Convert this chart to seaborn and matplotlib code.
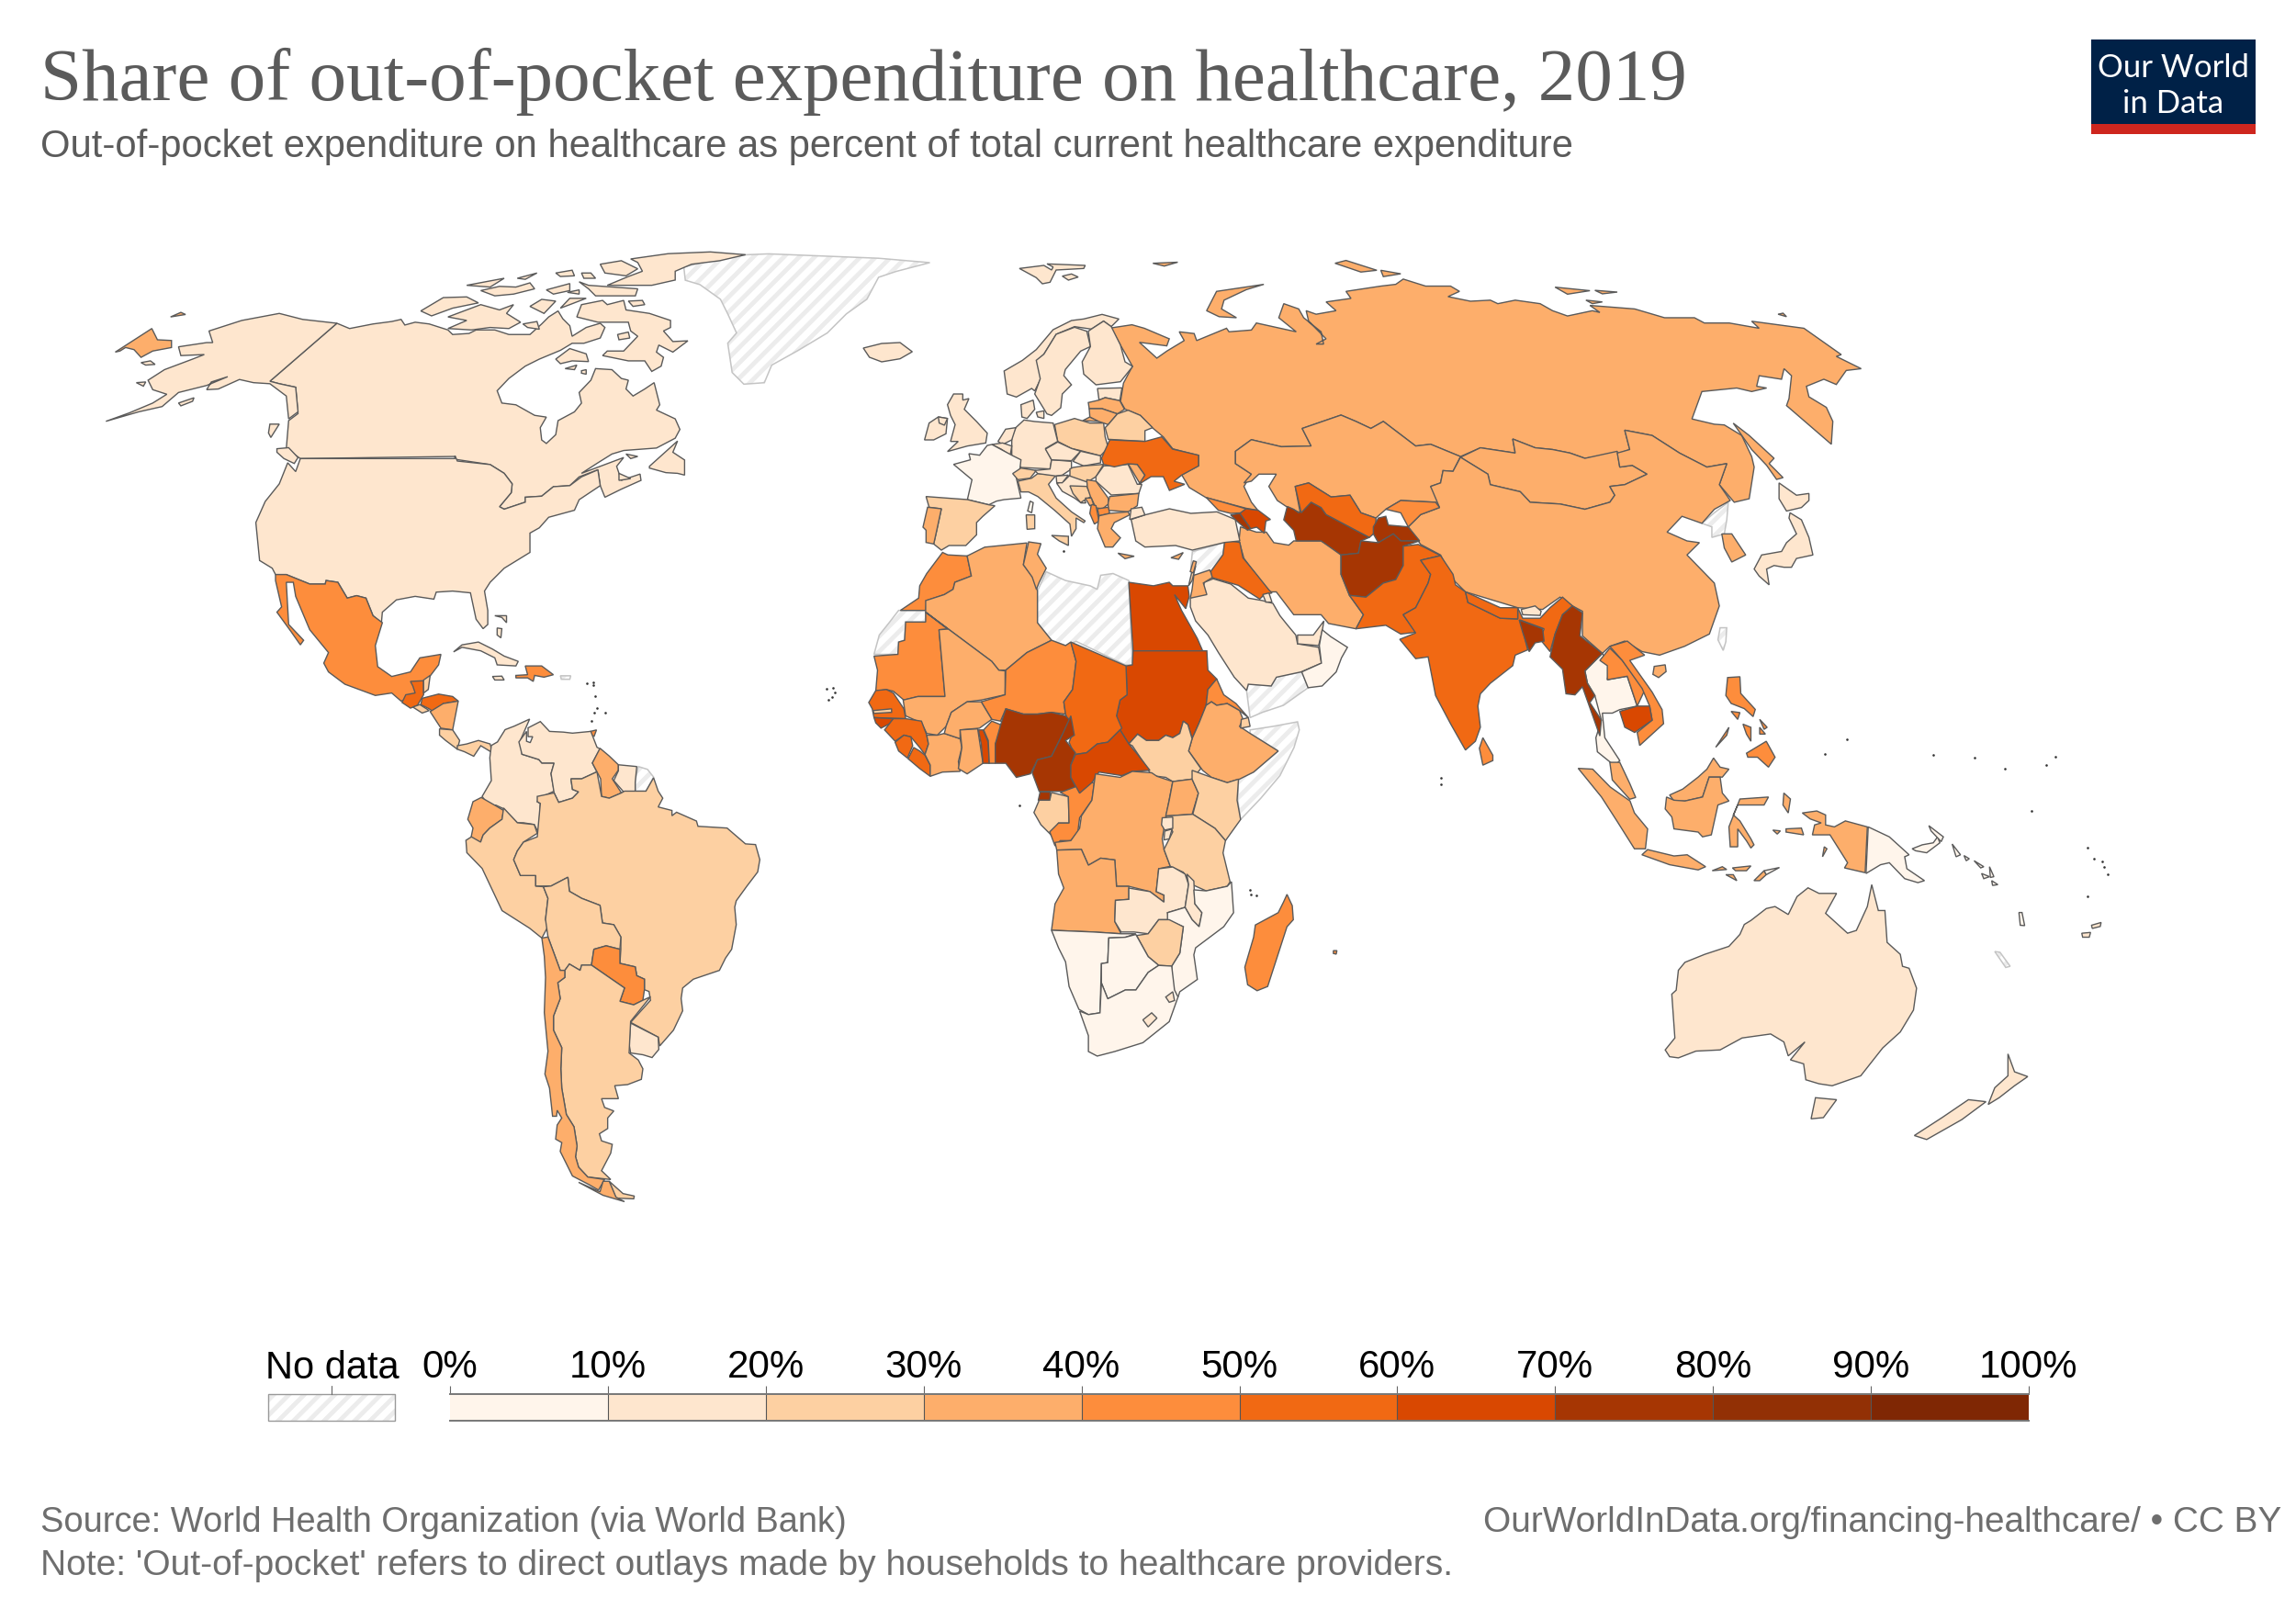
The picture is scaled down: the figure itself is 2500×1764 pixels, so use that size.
# Share of out-of-pocket expenditure on healthcare, 2019 - world map

import numpy as np
import pandas as pd
import matplotlib
matplotlib.use("Agg")
import matplotlib.pyplot as plt
import seaborn as sns

# --- Data ---
title = "Share of out-of-pocket expenditure on healthcare, 2019"
subtitle = "Out-of-pocket expenditure on healthcare as percent of total current healthcare expenditure"
source = "Source: World Health Organization (via World Bank)"
note = "Note: 'Out-of-pocket' refers to direct outlays made by households to healthcare providers."
url = "OurWorldInData.org/financing-healthcare/ • CC BY"

bin_edges = [0, 10, 20, 30, 40, 50, 60, 70, 80, 90, 100]
bin_labels = ["0%", "10%", "20%", "30%", "40%", "50%", "60%", "70%", "80%", "90%", "100%"]
bin_colors = ["#fff5eb", "#fee6ce", "#fdd0a2", "#fdae6b", "#fd8d3c",
              "#f16913", "#d94801", "#a63603", "#923005", "#7f2704"]

# shares (nan = no data)
shares = {
    "Russia": 35, "Kazakhstan": 35, "Mongolia": 35, "China": 35, "Canada": 15, "United States": 15,
    "Mexico": 45, "Greenland": np.nan, "Cuba": 15, "Hispaniola": 45, "Jamaica": 15, "Puerto Rico": np.nan,
    "Bahamas": 15, "Trinidad": 45, "Guatemala": 55, "Belize": 25, "Honduras": 55, "El Salvador": 25,
    "Nicaragua": 35, "Costa Rica": 25, "Panama": 25, "Colombia": 15, "Venezuela": 15, "Guyana": 35,
    "Suriname": 15, "French Guiana": np.nan, "Ecuador": 35, "Peru": 25, "Brazil": 25, "Bolivia": 25,
    "Paraguay": 45, "Uruguay": 15, "Argentina": 25, "Chile": 35,
    "Morocco": 45, "Western Sahara": np.nan, "Algeria": 35, "Tunisia": 35, "Libya": np.nan, "Egypt": 65,
    "Sudan": 65, "Eritrea": 45, "Ethiopia": 35, "Djibouti": 25, "Somalia": np.nan, "South Sudan": 25,
    "Mauritania": 45, "Mali": 35, "Niger": 45, "Chad": 55, "Senegal": 55, "Gambia": 25,
    "Guinea-Bissau": 65, "Guinea": 55, "Sierra Leone": 55, "Liberia": 55, "Cote d'Ivoire": 35,
    "Burkina Faso": 35, "Ghana": 35, "Togo": 65, "Benin": 45, "Nigeria": 75, "Cameroon": 75,
    "Equatorial Guinea": 75, "Gabon": 25, "Congo": 45, "Central African Republic": 65, "DR Congo": 35,
    "Angola": 35, "Uganda": 35, "Kenya": 25, "Tanzania": 25, "Rwanda": 15, "Burundi": 15, "Zambia": 15,
    "Malawi": 15, "Mozambique": 5, "Zimbabwe": 25, "Namibia": 5, "Botswana": 5, "South Africa": 5,
    "Lesotho": 15, "Eswatini": 15, "Madagascar": 45, "Mauritius": 45,
    "Saudi Arabia": 15, "UAE": 15, "Oman": 5, "Yemen": np.nan, "Jordan": 35, "Israel": 25, "Lebanon": 35,
    "Syria": np.nan, "Iraq": 55, "Kuwait": 15, "Iran": 35, "Pakistan": 55, "Afghanistan": 75, "Turkmenistan": 75,
    "Uzbekistan": 55, "Kyrgyzstan": 45, "Tajikistan": 75, "India": 55, "Nepal": 55, "Bhutan": 15,
    "Bangladesh": 75, "Myanmar": 75, "Thailand": 5, "Laos": 45, "Vietnam": 45, "Cambodia": 65,
    "Malaysia": 35, "Sri Lanka": 45, "Japan": 15, "South Korea": 35, "North Korea": np.nan,
    "Taiwan": np.nan, "Philippines": 45, "Indonesia": 35, "Papua New Guinea": 5, "Australia": 15,
    "New Zealand": 15, "Solomon Islands": 5, "New Caledonia": np.nan, "Fiji": 15, "Vanuatu": 5,
    "Norway": 15, "Sweden": 15, "Finland": 15, "Iceland": 15, "United Kingdom": 15, "Ireland": 15,
    "Denmark": 15, "Estonia": 15, "Latvia": 35, "Lithuania": 35, "Belarus": 25, "Poland": 25,
    "Germany": 15, "Netherlands": 15, "Belgium": 15, "France": 5, "Spain": 25, "Portugal": 35,
    "Switzerland": 25, "Austria": 15, "Italy": 25, "Czechia": 15, "Slovakia": 15, "Hungary": 25,
    "Romania": 15, "Moldova": 35, "Ukraine": 55, "Slovenia": 15, "Croatia": 15, "Bosnia": 25,
    "Serbia": 35, "Bulgaria": 35, "North Macedonia": 45, "Albania": 45, "Montenegro": 35, "Greece": 35,
    "Cyprus": 35, "Turkey": 15, "Georgia": 45, "Armenia": 75, "Azerbaijan": 65,
}

# tiny islands too small for an outline
tiny_x = [900, 907, 909, 902, 906, 639, 646, 646, 648, 650, 647, 659, 644, 1361, 1362, 1368, 1110, 1569, 1569,
          2011, 1987, 2105, 2150, 2183, 2228, 2238, 2212, 2273, 2280, 2289, 2291, 2295, 2273, 1158]
tiny_y = [751, 750, 755, 763, 760, 745, 744, 747, 759, 772, 777, 777, 786, 970, 975, 976, 878, 848, 855,
          806, 822, 823, 826, 838, 834, 825, 884, 924, 936, 939, 945, 953, 977, 601]

# the outlines were traced on enlarged sections of the map: left, top, x scale, y scale
sections = {
    "NA": (100, 260, 1.96, 2.613),
    "SA": (400, 740, 3.0, 2.613),
    "AF": (900, 570, 2.613, 2.613),
    "EU": (980, 280, 3.0, 3.0),
    "AS": (1200, 280, 1.845, 2.613),
    "OC": (1550, 600, 2.09, 2.306),
    "V": (0, 0, 0.6272, 0.6272),
}

outlines = {
    "Russia": [
        ("AS", [(18,204),(60,195),(85,205),(135,235),(130,255),(75,245),(110,290),(130,270),(165,240),(155,215),(185,220),(190,240),(250,205),(255,215),(300,210),(310,190),(390,215),(355,175),(365,135),(395,150),(405,175),(440,215),(445,250),(430,250),(450,235),(415,185),(410,155),(430,165),(470,155),(450,130),(500,120),(490,100),(560,85),(590,80),(605,65),(650,85),(700,85),(718,100),(695,115),(740,128),(780,125),(795,135),(830,125),(880,135),(905,155),(935,170),(985,155),(1000,160),(980,140),(1070,150),(1130,175),(1190,175),(1210,190),(1260,190),(1320,205),(1305,185),(1410,205),(1485,280),(1475,285),(1525,320),(1495,325),(1475,365),(1450,350),(1415,370),(1420,400),(1455,430),(1468,470),(1465,535),(1375,425),(1380,405),(1385,340),(1370,320),(1365,350),(1320,340),(1315,370),(1335,375),(1305,385),(1275,375),(1205,385),(1185,463),(1230,478),(1250,480),(1285,510),(1305,570),(1310,600),(1300,690),(1270,700),(1240,650),(1255,590),(1215,600),(1160,560),(1105,510),(1050,495),(1060,550),(1040,560),(970,575),(940,560),(905,550),(870,545),(825,520),(830,560),(760,545),(720,570),(660,535),(630,540),(565,470),(540,490),(510,470),(480,452),(402,490),(420,540),(360,542),(300,522),(268,555),(268,590),(300,620),(285,655),(300,700),(313,723),(289,717),(209,687),(175,658),(160,622),(194,596),(194,567),(142,548),(123,514),(101,488),(77,453),(46,435),(37,413),(43,361),(61,313),(37,253)]),
        ("AS", [(210,155),(230,100),(325,80),(290,95),(245,125),(240,150),(270,175),(235,172)]),
        ("AS", [(468,20),(490,12),(552,40),(520,45)]),
        ("AS", [(560,40),(600,50),(565,58)]),
        ("AS", [(102,20),(152,17),(125,28)]),
        ("AS", [(910,88),(980,98),(935,108)]),
        ("AS", [(990,97),(1035,102),(1005,107)]),
        ("AS", [(972,125),(1005,130),(985,135)]),
        ("AS", [(1358,165),(1368,162),(1375,172)]),
        ("AS", [(1268,475),(1300,510),(1350,575),(1340,590),(1368,630),(1355,635),(1335,595),(1305,550)]),
        ("NA", [(50,325),(128,258),(140,290),(170,292),(170,312),(130,322),(105,340),(90,318),(72,312),(60,322)]),
        ("NA", [(168,225),(190,212),(200,218)]),
        ("EU", [(597,537),(620,525),(650,540)]),
    ],
    "Kazakhstan": [("AS", [(268,555),(300,522),(360,542),(420,540),(402,490),(480,452),(510,470),(540,490),(565,470),(630,540),(660,535),(720,570),(705,612),(685,610),(680,645),(660,655),(680,695),(678,715),(670,700),(600,695),(570,720),(550,745),(520,730),(498,680),(460,685),(415,645),(388,655),(398,730),(370,712),(352,695),(335,655),(350,620),(315,620),(300,640),(285,645),(300,620),(268,590)])],
    "Mongolia": [("AS", [(720,572),(760,545),(830,560),(825,520),(870,545),(905,550),(940,560),(970,575),(1035,555),(1040,600),(1065,595),(1095,620),(1050,650),(1020,655),(1030,680),(1020,700),(970,720),(920,705),(860,700),(840,670),(780,650),(775,620)])],
    "China": [
        ("AS", [(720,572),(775,620),(780,650),(840,670),(860,700),(920,705),(970,720),(1020,700),(1030,680),(1020,655),(1050,650),(1095,620),(1065,595),(1040,600),(1035,560),(1060,550),(1050,495),(1105,510),(1160,560),(1215,600),(1255,590),(1240,650),(1262,695),(1230,720),(1205,760),(1165,740),(1135,785),(1175,810),(1200,815),(1175,850),(1230,930),(1240,995),(1220,1075),(1170,1110),(1120,1135),(1085,1125),(1050,1095),(1020,1110),(1005,1130),(965,1080),(965,1010),(945,995),(920,970),(885,1005),(835,1000),(730,955),(705,920),(680,850),(640,820),(615,770),(640,735),(678,715),(660,655),(680,645),(685,610),(705,612)]),
        ("OC", [(525,292),(550,288),(552,305),(535,320),(522,312)]),
    ],
    "Canada": [
        ("NA", [(523,243),(550,258),(600,245),(640,238),(660,232),(668,248),(690,240),(720,245),(760,262),(770,275),(805,272),(820,262),(860,262),(890,275),(935,275),(960,245),(975,225),(995,208),(1005,230),(1020,250),(1025,280),(1055,255),(1085,243),(1095,255),(1085,285),(1050,300),(1025,300),(1000,320),(955,345),(925,365),(890,400),(865,435),(875,470),(905,475),(945,505),(970,510),(957,540),(960,575),(970,585),(990,560),(995,520),(1030,495),(1045,470),(1040,440),(1065,405),(1075,372),(1110,375),(1130,400),(1145,405),(1140,430),(1155,450),(1180,430),(1200,412),(1212,475),(1205,490),(1245,515),(1255,545),(1245,570),(1205,598),(1135,605),(1110,615),(1080,640),(1045,670),(1135,625),(1120,650),(1130,690),(1170,672),(1172,690),(1130,715),(1095,738),(1085,705),(1080,660),(1040,680),(1020,705),(985,708),(960,735),(925,738),(925,752),(880,772),(870,765),(895,725),(897,700),(880,670),(850,645),(775,630),(775,622),(445,628),(415,600),(420,520),(440,500),(435,425),(400,415),(380,408)]),
        ("NA", [(1035,225),(1045,190),(1090,178),(1100,190),(1135,178),(1140,205),(1190,215),(1235,235),(1235,255),(1220,265),(1240,295),(1272,293),(1240,325),(1210,305),(1205,325),(1220,340),(1215,365),(1195,380),(1180,350),(1145,350),(1090,335),(1100,322),(1135,322),(1165,280),(1150,265),(1145,240),(1080,240)]),
        ("NA", [(760,225),(830,190),(870,205),(900,190),(885,215),(915,240),(890,258),(850,255),(810,262),(760,258),(800,235)]),
        ("NA", [(702,208),(750,170),(800,168),(825,185),(770,200),(725,222)]),
        ("NA", [(1150,60),(1230,45),(1320,40),(1395,48),(1340,65),(1280,75),(1245,95),(1245,120),(1195,135),(1100,135),(1145,110),(1175,95),(1165,70)]),
        ("NA", [(1085,75),(1130,65),(1165,88),(1140,108),(1095,100)]),
        ("NA", [(1040,125),(1060,135),(1165,145),(1160,165),(1075,165),(1060,145)]),
        ("NA", [(990,345),(1020,315),(1055,330),(1060,352),(1025,350),(1000,358)]),
        ("NA", [(800,135),(880,115),(850,140)]),
        ("NA", [(830,150),(870,138),(905,140),(935,128),(945,145),(900,160),(860,165)]),
        ("NA", [(970,148),(1020,130),(1020,150),(985,160)]),
        ("NA", [(935,195),(960,175),(990,180),(965,215)]),
        ("NA", [(1000,200),(1020,172),(1055,172),(1020,190)]),
        ("NA", [(1145,180),(1175,178),(1180,190),(1155,195)]),
        ("NA", [(990,100),(1025,92),(1030,108),(1000,110)]),
        ("NA", [(908,115),(950,100),(925,118)]),
        ("NA", [(1015,155),(1040,148),(1040,160)]),
        ("NA", [(1045,100),(1065,100),(1075,115),(1050,115)]),
        ("NA", [(920,245),(950,238),(955,260),(930,255)]),
        ("NA", [(1122,275),(1145,268),(1148,285),(1125,290)]),
        ("NA", [(1010,372),(1035,362),(1030,375)]),
        ("NA", [(1045,378),(1055,375),(1055,388),(1045,385)]),
        ("NA", [(1190,650),(1250,578),(1240,610),(1265,632),(1265,675),(1250,670),(1225,668),(1190,655)]),
        ("NA", [(380,530),(400,530),(382,568),(377,555)]),
        ("NA", [(1140,615),(1165,622),(1150,628)]),
        ("NA", [(1125,670),(1150,685),(1125,690)]),
        ("NA", [(395,600),(420,597),(440,625),(432,642),(410,628),(395,610)]),
    ],
    "United States": [
        ("NA", [(445,628),(775,628),(775,620),(780,635),(850,645),(880,670),(897,700),(895,725),(870,765),(880,772),(925,752),(925,738),(960,735),(985,708),(1020,705),(1045,680),(1080,660),(1085,705),(1040,745),(1030,775),(975,795),(955,825),(935,840),(935,895),(880,940),(850,980),(838,1005),(845,1060),(845,1100),(835,1112),(820,1085),(808,1010),(770,1005),(735,1008),(730,1028),(690,1020),(650,1030),(620,1065),(618,1095),(600,1075),(585,1025),(565,1018),(545,1025),(525,980),(500,975),(498,985),(465,985),(415,958),(392,958),(385,940),(358,918),(350,810),(370,750),(400,700),(418,640),(435,665)]),
        ("NA", [(523,243),(380,408),(400,415),(435,425),(440,495),(420,515),(415,450),(380,415),(345,412),(315,403),(270,430),(245,432),(255,410),(290,395),(245,420),(185,440),(150,480),(100,495),(30,522),(80,498),(130,470),(160,445),(130,432),(120,405),(155,375),(215,345),(240,332),(190,335),(185,310),(245,298),(258,298),(250,265),(320,235),(400,215),(450,232)]),
        ("NA", [(105,355),(125,350),(135,360),(115,362)]),
        ("NA", [(95,412),(115,410),(110,422)]),
        ("NA", [(185,470),(218,455),(215,465),(190,478)]),
    ],
    "Greenland": [("V", [(467,183),(500,175),(525,174),(600,177),(635,180),(612,186),(600,190),(592,205),(578,215),(565,228),(545,240),(527,250),(522,262),(508,263),(500,255),(497,235),(503,228),(497,215),(492,205),(478,195),(468,192)])],
    "Mexico": [("NA", [(392,958),(415,958),(465,985),(498,985),(500,975),(525,980),(545,1025),(565,1018),(585,1025),(600,1075),(620,1095),(605,1160),(610,1220),(640,1248),(680,1235),(700,1195),(745,1185),(740,1215),(720,1250),(705,1285),(690,1305),(660,1318),(640,1295),(605,1302),(540,1270),(505,1235),(495,1210),(505,1180),(465,1115),(435,1020),(430,980),(415,980),(420,1100),(452,1145),(445,1158),(425,1120),(395,1065),(405,1050),(392,975)])],
    "Cuba": [("NA", [(772,1178),(790,1158),(825,1150),(855,1170),(880,1190),(910,1205),(905,1218),(865,1215),(860,1195),(830,1175),(790,1165)])],
    "Hispaniola": [("NA", [(905,1245),(930,1243),(925,1218),(960,1218),(985,1243),(965,1250),(945,1245),(942,1262),(930,1252),(905,1252)])],
    "Jamaica": [("NA", [(855,1248),(875,1247),(880,1258),(860,1258)])],
    "Puerto Rico": [("NA", [(1000,1246),(1022,1246),(1020,1256),(1002,1256)])],
    "Bahamas": [("NA", [(860,1075),(885,1075),(885,1095),(875,1080)]), ("NA", [(865,1110),(875,1112),(873,1138),(865,1130)])],
    "Trinidad": [("NA", [(1062,1405),(1077,1400),(1072,1418),(1062,1415)])],
    "Guatemala": [("NA", [(680,1262),(708,1260),(708,1300),(695,1330),(680,1338),(662,1322),(670,1300),(690,1295),(685,1275)])],
    "Belize": [("NA", [(708,1258),(722,1245),(718,1285),(708,1295)])],
    "El Salvador": [("NA", [(685,1335),(700,1328),(720,1345),(705,1352)])],
    "Honduras": [("NA", [(705,1310),(740,1298),(770,1305),(782,1318),(750,1325),(735,1355),(720,1340),(702,1328)])],
    "Nicaragua": [("NA", [(722,1348),(750,1325),(782,1318),(778,1345),(770,1400),(745,1395)])],
    "Costa Rica": [("NA", [(742,1397),(770,1400),(785,1430),(780,1455),(755,1430),(742,1415)])],
    "Panama": [("NA", [(780,1445),(800,1440),(825,1430),(850,1440),(855,1465),(830,1445),(815,1475),(795,1462),(780,1455)])],
    "Colombia": [("SA", [(405,190),(425,180),(450,145),(480,135),(530,115),(500,175),(505,215),(560,230),(570,240),(610,240),(600,270),(610,320),(560,340),(555,350),(565,355),(560,440),(545,415),(510,410),(490,410),(445,370),(420,360),(395,360),(375,335),(405,290),(400,225)])],
    "Venezuela": [("SA", [(525,140),(565,122),(595,150),(640,152),(670,155),(730,150),(750,195),(760,200),(735,240),(750,265),(700,285),(665,285),(670,315),(690,322),(670,340),(625,352),(610,325),(600,270),(610,240),(570,240),(560,230),(505,215),(495,180),(520,150),(520,178),(532,182),(540,165),(525,165)])],
    "Guyana": [("SA", [(760,198),(790,220),(820,245),(820,260),(800,285),(830,325),(790,340),(765,335),(762,285),(735,240)])],
    "Suriname": [("SA", [(820,245),(880,250),(875,295),(875,320),(840,325),(805,290),(820,262)])],
    "French Guiana": [("SA", [(885,250),(915,258),(935,280),(910,320),(875,320),(875,290)])],
    "Ecuador": [("SA", [(345,350),(372,338),(420,362),(445,375),(440,400),(400,425),(378,445),(370,465),(338,455),(345,425),(328,400)])],
    "Peru": [("SA", [(322,460),(340,450),(370,465),(378,445),(400,425),(440,400),(445,368),(490,410),(545,415),(555,440),(510,465),(490,490),(478,515),(500,560),(550,560),(550,590),(575,592),(590,625),(582,685),(590,705),(570,738),(530,710),(440,660),(375,540),(325,495)])],
    "Brazil": [("SA", [(555,335),(610,325),(625,352),(670,340),(690,322),(670,315),(665,285),(700,285),(750,265),(765,335),(790,340),(830,325),(840,320),(875,320),(910,320),(935,282),(950,320),(965,340),(950,365),(995,375),(995,390),(1010,380),(1075,405),(1080,420),(1175,425),(1235,470),(1268,472),(1282,515),(1275,550),(1240,590),(1205,632),(1200,650),(1205,700),(1190,770),(1170,795),(1150,830),(1065,855),(1030,880),(1025,910),(1030,945),(1000,1000),(955,1045),(950,1020),(860,978),(925,915),(920,890),(905,885),(905,855),(880,845),(875,820),(825,810),(828,770),(828,735),(805,700),(768,695),(760,645),(700,625),(660,605),(655,565),(600,590),(550,590),(550,560),(500,560),(478,515),(490,490),(510,465),(555,450),(565,355),(555,350)])],
    "Bolivia": [("SA", [(575,592),(600,590),(655,565),(660,605),(700,625),(760,645),(768,695),(805,700),(828,735),(825,770),(780,760),(740,770),(732,815),(700,815),(695,830),(660,812),(645,830),(630,830),(590,735),(582,685),(590,625)])],
    "Paraguay": [("SA", [(740,770),(780,760),(825,770),(825,810),(875,820),(880,845),(905,855),(905,885),(900,915),(870,928),(825,918),(840,880),(790,850),(732,815)])],
    "Uruguay": [("SA", [(860,980),(950,1020),(952,1055),(930,1078),(900,1070),(860,1065),(855,1040)])],
    "Argentina": [
        ("SA", [(645,830),(660,812),(695,830),(700,815),(732,815),(790,850),(840,880),(825,918),(870,928),(900,915),(925,905),(860,975),(855,1065),(885,1085),(900,1110),(895,1140),(850,1155),(808,1158),(820,1195),(765,1195),(775,1220),(805,1230),(785,1250),(785,1280),(758,1295),(765,1315),(800,1325),(795,1350),(765,1400),(795,1425),(720,1418),(690,1390),(680,1360),(685,1330),(675,1275),(650,1240),(635,1165),(632,1110),(635,1050),(608,1000),(608,960),(630,910),(622,865),(645,850)]),
        ("SA", [(790,1430),(835,1465),(872,1472),(870,1480),(812,1478)]),
    ],
    "Chile": [
        ("SA", [(570,738),(590,735),(630,830),(645,830),(645,850),(622,865),(630,910),(608,960),(608,1000),(635,1050),(632,1110),(635,1165),(650,1240),(675,1275),(685,1330),(680,1360),(690,1390),(720,1418),(775,1425),(755,1455),(725,1440),(670,1415),(630,1345),(635,1320),(615,1310),(620,1270),(635,1250),(620,1228),(618,1245),(605,1245),(595,1165),(580,1125),(590,1060),(578,950),(582,850),(578,790)]),
        ("SA", [(690,1433),(760,1460),(770,1430),(790,1430),(812,1475),(840,1488),(770,1470)]),
    ],
    "Morocco": [("AF", [(210,250),(262,215),(265,180),(285,145),(330,85),(345,92),(400,95),(412,152),(365,170),(360,190),(335,205),(285,222),(282,250)])],
    "Western Sahara": [("AF", [(135,375),(150,320),(178,285),(205,250),(282,250),(282,283),(225,283),(222,335),(205,340),(203,375)])],
    "Algeria": [("AF", [(282,222),(335,205),(360,190),(365,170),(412,152),(400,95),(450,70),(570,58),(560,120),(590,160),(600,195),(600,285),(640,335),(570,370),(510,420),(490,420),(470,395),(282,255)])],
    "Tunisia": [("AF", [(575,55),(610,60),(600,90),(625,130),(605,170),(597,190),(585,155),(560,120)])],
    "Libya": [("AF", [(625,140),(680,165),(750,180),(770,190),(780,150),(815,145),(860,165),(870,405),(850,405),(710,338),(680,350),(640,335),(600,285),(600,195)])],
    "Egypt": [("AF", [(860,170),(930,180),(975,170),(985,180),(1028,180),(1032,210),(1022,245),(990,205),(1010,250),(1055,330),(1070,365),(872,365)])],
    "Sudan": [("AF", [(872,365),(1082,365),(1085,420),(1110,445),(1085,475),(1080,520),(1060,570),(1040,615),(1028,575),(1015,565),(1005,600),(985,612),(965,605),(945,620),(910,620),(885,602),(860,630),(835,590),(825,550),(835,505),(855,490),(852,408),(870,405)])],
    "Eritrea": [("AF", [(1110,445),(1130,490),(1165,515),(1200,555),(1175,535),(1140,515),(1110,520),(1095,510),(1080,520),(1085,475)])],
    "Ethiopia": [("AF", [(1080,520),(1095,510),(1110,520),(1140,515),(1175,535),(1185,560),(1175,580),(1205,600),(1285,650),(1215,710),(1175,730),(1140,740),(1095,725),(1070,705),(1030,650),(1040,615),(1060,570)])],
    "Djibouti": [("AF", [(1180,560),(1200,555),(1205,580),(1178,585)])],
    "Somalia": [("AF", [(1205,590),(1270,580),(1340,567),(1345,590),(1330,640),(1290,720),(1235,785),(1178,845),(1170,790),(1172,730),(1215,710),(1285,650),(1205,600)])],
    "South Sudan": [("AF", [(860,630),(885,602),(910,620),(945,620),(965,605),(985,612),(1005,600),(1015,565),(1028,575),(1040,615),(1030,650),(1065,700),(1040,730),(985,737),(965,725),(925,720),(900,680),(870,635)])],
    "Mauritania": [("AF", [(135,380),(203,375),(205,340),(222,335),(225,283),(282,283),(282,255),(345,303),(320,305),(337,495),(260,495),(220,505),(190,480),(170,475),(140,480),(145,420)])],
    "Mali": [("AF", [(282,255),(470,395),(490,420),(508,422),(508,490),(440,505),(400,510),(355,540),(340,580),(315,605),(285,600),(270,570),(225,550),(218,505),(260,495),(337,495),(320,305),(345,303)])],
    "Niger": [("AF", [(510,420),(570,370),(640,335),(680,350),(695,340),(710,395),(700,475),(675,510),(680,545),(640,540),(600,545),(560,545),(510,530),(495,565),(470,560),(440,510),(508,490)])],
    "Chad": [("AF", [(695,340),(852,408),(855,490),(835,505),(825,550),(840,585),(800,625),(770,630),(740,655),(705,660),(690,625),(700,600),(680,545),(675,510),(700,475),(710,395)])],
    "Senegal": [("AF", [(120,512),(140,478),(170,475),(190,485),(220,530),(225,558),(135,555),(130,530)])],
    "Gambia": [("AF", [(132,535),(185,530),(185,540),(135,543)])],
    "Guinea-Bissau": [("AF", [(135,555),(190,558),(180,572),(155,585),(140,570)])],
    "Guinea": [("AF", [(165,590),(190,558),(225,558),(270,565),(285,605),(290,630),(280,660),(265,640),(240,610),(220,605),(195,622)])],
    "Sierra Leone": [("AF", [(195,625),(220,605),(240,610),(245,635),(230,670),(205,650)])],
    "Liberia": [("AF", [(232,672),(248,640),(265,650),(280,662),(295,690),(295,722),(265,700)])],
    "Cote d'Ivoire": [("AF", [(285,605),(315,605),(335,600),(380,615),(385,640),(375,680),(380,708),(330,710),(295,722),(295,690),(280,660),(290,630)])],
    "Burkina Faso": [("AF", [(355,540),(400,510),(440,510),(470,560),(435,585),(380,590),(380,615),(335,600),(340,580)])],
    "Ghana": [("AF", [(380,590),(430,587),(435,620),(445,685),(400,715),(375,700),(385,640)])],
    "Togo": [("AF", [(432,590),(445,590),(460,625),(463,685),(445,685),(440,630)])],
    "Benin": [("AF", [(447,590),(470,565),(495,575),(495,600),(480,630),(480,685),(463,685),(460,620)])],
    "Nigeria": [("AF", [(497,570),(510,530),(560,545),(600,545),(640,540),(680,550),(695,565),(670,605),(640,665),(600,675),(585,705),(580,715),(540,725),(510,685),(480,685),(480,630)])],
    "Cameroon": [("AF", [(695,550),(705,605),(680,620),(708,655),(695,690),(695,725),(718,770),(670,765),(605,765),(585,712),(600,675),(640,665),(670,605)])],
    "Equatorial Guinea": [("AF", [(605,765),(635,765),(635,790),(600,790)])],
    "Gabon": [("AF", [(605,790),(635,790),(640,768),(688,780),(690,855),(660,855),(640,890),(610,860),(590,825)])],
    "Congo": [("AF", [(665,768),(740,740),(762,740),(755,790),(720,840),(715,880),(695,905),(665,905),(650,920),(635,880),(660,855),(690,855),(688,780)])],
    "Central African Republic": [("AF", [(708,660),(740,655),(770,630),(800,625),(835,590),(860,630),(885,660),(920,705),(870,708),(840,720),(775,710),(755,740),(720,770),(695,725),(695,690)])],
    "DR Congo": [("AF", [(765,715),(835,725),(870,708),(925,712),(940,722),(985,737),(965,840),(955,900),(960,930),(978,978),(945,985),(938,1050),(960,1060),(960,1080),(920,1050),(860,1035),(825,1035),(820,960),(780,955),(745,975),(725,930),(655,932),(650,910),(695,905),(720,870),(725,835),(755,790)])],
    "Angola": [("AF", [(655,932),(725,930),(745,975),(780,955),(820,960),(825,1035),(860,1035),(860,1072),(822,1075),(820,1135),(838,1170),(760,1165),(640,1160),(650,1085),(675,1040),(660,1000)])],
    "Uganda": [("AF", [(985,737),(1040,730),(1058,770),(1040,830),(965,835),(975,790)])],
    "Kenya": [("AF", [(1040,705),(1095,725),(1140,740),(1172,730),(1168,790),(1178,845),(1135,905),(1105,870),(1042,830),(1058,770),(1040,730)])],
    "Tanzania": [("AF", [(965,835),(1042,830),(1105,870),(1135,905),(1128,940),(1148,1022),(1140,1035),(1080,1048),(1040,1030),(1015,995),(978,978),(960,930),(985,880)])],
    "Rwanda": [("AF", [(955,840),(985,838),(985,870),(962,875),(953,860)])],
    "Burundi": [("AF", [(962,878),(983,872),(975,900),(960,903)])],
    "Zambia": [("AF", [(860,1040),(920,1050),(960,1080),(960,1060),(938,1050),(945,985),(985,980),(1020,1000),(1030,1030),(1020,1095),(970,1110),(975,1130),(945,1130),(915,1170),(875,1165),(838,1165),(820,1135),(822,1075),(860,1072)])],
    "Malawi": [("AF", [(1025,1000),(1045,1020),(1048,1085),(1068,1110),(1060,1150),(1040,1130),(1020,1095),(1030,1030)])],
    "Mozambique": [("AF", [(1152,1022),(1158,1110),(1130,1150),(1050,1210),(1045,1230),(1055,1300),(1005,1335),(1000,1350),(985,1330),(982,1262),(1005,1225),(1015,1150),(970,1130),(970,1110),(1020,1095),(1040,1130),(1060,1150),(1068,1110),(1048,1085),(1045,1045),(1080,1048),(1140,1035)])],
    "Zimbabwe": [("AF", [(882,1175),(915,1170),(945,1130),(975,1130),(1015,1150),(1005,1225),(982,1262),(945,1260),(915,1235)])],
    "Namibia": [("AF", [(640,1160),(760,1165),(838,1170),(880,1170),(850,1180),(803,1182),(800,1252),(782,1255),(778,1395),(745,1400),(718,1385),(690,1320),(680,1250),(660,1210)])],
    "Botswana": [("AF", [(803,1182),(850,1180),(880,1172),(915,1235),(945,1260),(915,1280),(880,1330),(850,1330),(800,1355),(782,1310),(782,1255),(800,1252)])],
    "South Africa": [("AF", [(720,1390),(745,1400),(778,1395),(782,1310),(800,1355),(850,1330),(880,1330),(915,1280),(945,1260),(982,1262),(990,1330),(1000,1350),(975,1420),(900,1480),(820,1505),(770,1518),(745,1505),(745,1460)])],
    "Lesotho": [("AF", [(900,1415),(925,1395),(940,1410),(915,1435)])],
    "Eswatini": [("AF", [(965,1350),(985,1335),(990,1360),(975,1365)])],
    "Madagascar": [("AF", [(1310,1058),(1325,1090),(1328,1130),(1310,1150),(1255,1320),(1225,1332),(1198,1315),(1190,1265),(1215,1180),(1220,1145),(1285,1110),(1300,1080)])],
    "Mauritius": [("AF", [(1442,1218),(1452,1218),(1450,1228),(1442,1226)])],
    "Saudi Arabia": [("AF", [(1035,240),(1035,215),(1070,190),(1075,170),(1100,160),(1150,175),(1200,215),(1240,222),(1270,230),(1290,265),(1310,290),(1335,320),(1340,345),(1400,355),(1408,400),(1350,425),(1280,440),(1265,465),(1200,460),(1195,478),(1160,440),(1115,370),(1085,320),(1050,280)])],
    "UAE": [("AF", [(1340,320),(1385,320),(1415,280),(1410,310),(1400,350),(1340,345)])],
    "Oman": [("AF", [(1410,305),(1435,325),(1482,355),(1465,385),(1450,425),(1410,465),(1370,470),(1352,425),(1408,400),(1402,350)])],
    "Yemen": [("AF", [(1195,478),(1200,460),(1265,465),(1280,440),(1352,425),(1370,470),(1300,520),(1240,540),(1205,555)])],
    "Jordan": [("AF", [(1045,150),(1090,135),(1100,155),(1072,172),(1082,205),(1035,215),(1040,190)])],
    "Israel": [("AF", [(1030,180),(1045,115),(1050,125),(1040,165)])],
    "Lebanon": [("EU", [(948,1030),(958,995),(968,998),(958,1035)])],
    "Syria": [("EU", [(955,965),(1060,935),(1055,975),(1015,1030),(1018,1050),(960,1040),(950,1015)])],
    "Iran": [("AS", [(278,770),(275,810),(285,860),(325,935),(335,955),(350,955),(385,1020),(440,1020),(455,1045),(510,1060),(525,1020),(497,965),(480,905),(480,850),(475,840),(440,810),(385,810),(375,822),(345,815),(330,785),(310,785)])],
    "Iraq": [("EU", [(1060,935),(1080,930),(1110,935),(1120,985),(1165,1040),(1205,1090),(1215,1100),(1190,1105),(1175,1120),(1105,1075),(1020,1050),(1015,1030),(1055,975)])],
    "Kuwait": [("EU", [(1185,1105),(1205,1100),(1215,1130),(1195,1130)])],
    "Turkmenistan": [("AS", [(372,712),(385,720),(395,730),(420,700),(440,715),(450,735),(510,780),(537,800),(520,810),(515,845),(480,850),(440,810),(390,810),(385,780),(365,750)])],
    "Uzbekistan": [("AS", [(388,655),(415,645),(460,685),(498,680),(520,730),(550,745),(550,770),(545,790),(537,800),(510,780),(450,735),(440,715),(420,700),(400,730)])],
    "Kyrgyzstan": [("AS", [(570,720),(600,695),(670,700),(678,715),(640,735),(615,770),(600,730)])],
    "Tajikistan": [("AS", [(555,745),(570,740),(575,765),(615,770),(638,810),(600,810),(585,790),(555,815),(545,790),(545,770)])],
    "Afghanistan": [("AS", [(480,850),(515,845),(520,810),(555,815),(585,790),(600,810),(638,810),(605,825),(605,880),(590,920),(565,930),(530,970),(497,965),(480,905)])],
    "Pakistan": [("AS", [(510,1060),(525,1020),(497,965),(530,970),(565,930),(590,920),(605,880),(605,825),(635,820),(650,830),(680,852),(640,865),(660,905),(655,930),(630,1000),(605,1020),(630,1070),(600,1075),(570,1050)])],
    "India": [("AS", [(680,852),(705,905),(710,935),(730,955),(735,985),(800,1030),(835,1032),(835,1000),(845,1030),(880,1030),(900,1000),(925,970),(945,995),(925,1020),(910,1075),(900,1125),(880,1090),(888,1060),(840,1035),(855,1120),(830,1135),(825,1165),(780,1215),(760,1245),(755,1280),(760,1340),(750,1380),(730,1405),(700,1330),(670,1250),(655,1140),(630,1145),(598,1090),(630,1072),(605,1020),(630,1000),(655,930),(660,905),(640,865)])],
    "Nepal": [("AS", [(730,955),(800,1000),(835,1000),(835,1032),(800,1030),(735,985)])],
    "Bhutan": [("AS", [(842,1005),(870,995),(882,1010),(880,1022),(845,1020)])],
    "Bangladesh": [("AS", [(838,1035),(885,1060),(888,1095),(870,1100),(858,1125),(845,1070)])],
    "Thailand": [("AS", [(970,1180),(1005,1130),(1020,1165),(1015,1205),(1055,1195),(1075,1280),(1040,1290),(1025,1300),(1005,1300),(1010,1370),(1040,1435),(1030,1450),(995,1410),(992,1370),(1003,1320),(990,1250),(975,1215)])],
    "Myanmar": [("AS", [(945,995),(965,1015),(960,1080),(1005,1130),(970,1180),(975,1215),(990,1250),(980,1270),(1003,1320),(1000,1365),(975,1265),(965,1225),(950,1248),(932,1245),(925,1175),(900,1140),(910,1075),(925,1020)])],
    "Laos": [("AS", [(1000,1150),(1020,1115),(1045,1150),(1090,1235),(1075,1280),(1055,1195),(1015,1205),(1015,1165)])],
    "Vietnam": [("AS", [(1020,1110),(1055,1095),(1090,1135),(1060,1150),(1105,1240),(1125,1290),(1128,1330),(1080,1392),(1075,1355),(1105,1320),(1100,1280),(1085,1230),(1045,1150)])],
    "Cambodia": [("AS", [(1040,1295),(1075,1280),(1100,1280),(1105,1320),(1070,1355),(1050,1340)])],
    "Malaysia": [
        ("AS", [(1020,1440),(1040,1440),(1060,1500),(1072,1540),(1060,1545),(1025,1490)]),
        ("OC", [(560,615),(590,600),(625,570),(645,550),(660,522),(675,545),(695,550),(680,570),(650,570),(635,620),(595,630),(570,630)]),
    ],
    "Sri Lanka": [("AS", [(765,1370),(785,1420),(785,1435),(765,1448),(758,1400)])],
    "Japan": [
        ("AS", [(1382,730),(1405,750),(1420,800),(1428,850),(1395,860),(1385,885),(1370,885),(1350,880),(1335,890),(1340,935),(1320,910),(1310,890),(1325,850),(1365,840),(1375,815),(1395,790),(1380,745)]),
        ("AS", [(1360,645),(1395,680),(1420,675),(1420,695),(1405,715),(1375,725),(1360,690)]),
    ],
    "South Korea": [("AS", [(1245,790),(1265,790),(1293,850),(1265,870),(1250,830)])],
    "North Korea": [("AS", [(1205,760),(1230,730),(1258,700),(1255,750),(1250,790),(1225,800),(1225,770)])],
    "Taiwan": [("OC", [(675,195),(690,195),(688,230),(682,252),(670,225)])],
    "Philippines": [
        ("OC", [(692,320),(720,318),(722,360),(755,400),(750,418),(730,398),(700,385),(688,365)]),
        ("OC", [(735,510),(780,480),(800,520),(785,545),(760,520),(738,520)]),
        ("OC", [(665,495),(695,445),(690,465)]),
        ("OC", [(700,405),(720,408),(715,425)]),
        ("OC", [(727,437),(745,445),(745,480),(735,462)]),
        ("OC", [(765,425),(782,445),(775,450)]),
        ("OC", [(765,445),(778,462),(765,462)]),
    ],
    "Indonesia": [
        ("OC", [(553,620),(570,628),(595,630),(635,620),(650,570),(675,570),(680,610),(695,630),(670,640),(655,715),(635,720),(625,708),(570,700),(565,670),(550,650)]),
        ("OC", [(352,548),(385,550),(425,595),(470,630),(480,660),(510,700),(505,750),(480,750),(440,680),(405,620)]),
        ("OC", [(497,765),(510,752),(570,768),(600,765),(642,795),(625,803),(560,790)]),
        ("OC", [(720,625),(785,620),(775,640),(715,640),(705,665),(720,680),(745,725),(752,740),(745,748),(735,730),(715,700),(715,745),(698,745),(695,695)]),
        ("OC", [(820,610),(835,625),(830,660),(818,640)]),
        ("OC", [(862,660),(895,655),(915,665),(915,690),(935,695),(960,680),(1010,695),(1005,810),(958,798),(965,785),(925,715),(885,715),(890,690),(905,685),(880,675)]),
        ("OC", [(657,805),(680,795),(690,802)]),
        ("OC", [(703,798),(745,793),(735,805),(710,805)]),
        ("OC", [(688,815),(705,815),(713,830)]),
        ("OC", [(752,830),(775,805),(780,815),(765,830)]),
        ("OC", [(795,703),(812,705),(805,713)]),
        ("OC", [(825,700),(860,698),(865,715),(825,708)]),
        ("OC", [(908,770),(912,745),(918,750)]),
    ],
    "Papua New Guinea": [
        ("OC", [(1012,695),(1060,720),(1085,745),(1105,765),(1095,770),(1100,800),(1140,830),(1125,835),(1095,825),(1060,785),(1040,790),(1007,812)]),
        ("OC", [(1112,750),(1135,740),(1160,735),(1170,720),(1175,735),(1145,760),(1120,755)]),
        ("OC", [(1150,692),(1183,720),(1178,732),(1155,705)]),
        ("OC", [(775,805),(810,797),(780,815)]),
    ],
    "Australia": [
        ("OC", [(875,848),(900,862),(940,862),(915,912),(965,962),(985,955),(1010,895),(1020,840),(1035,905),(1050,905),(1055,985),(1085,1015),(1090,1045),(1105,1050),(1122,1100),(1115,1155),(1085,1210),(1045,1250),(995,1320),(930,1345),(900,1340),(870,1330),(865,1290),(835,1280),(868,1235),(830,1270),(820,1235),(790,1215),(725,1225),(675,1255),(620,1258),(580,1275),(560,1272),(550,1255),(572,1225),(565,1115),(575,1105),(580,1055),(595,1035),(640,1015),(695,995),(720,965),(730,940),(745,930),(780,900),(800,895),(830,915),(850,870)]),
        ("OC", [(892,1375),(940,1380),(910,1425),(882,1428)]),
    ],
    "New Zealand": [
        ("OC", [(1330,1265),(1345,1310),(1375,1322),(1345,1345),(1310,1375),(1285,1392),(1300,1350),(1330,1320)]),
        ("OC", [(1117,1470),(1180,1425),(1240,1380),(1280,1385),(1225,1430),(1145,1480)]),
    ],
    "Solomon Islands": [
        ("OC", [(1203,738),(1222,765),(1212,770)]),
        ("OC", [(1230,767),(1242,775),(1235,780)]),
        ("OC", [(1253,780),(1275,795),(1268,798)]),
        ("OC", [(1288,795),(1298,820),(1290,822)]),
        ("OC", [(1270,812),(1288,820),(1275,825)]),
        ("OC", [(1293,830),(1307,840),(1295,842)]),
    ],
    "New Caledonia": [("OC", [(1300,1008),(1312,1010),(1335,1045),(1325,1048)])],
    "Fiji": [("OC", [(1498,962),(1518,960),(1515,972),(1500,972)]), ("OC", [(1520,942),(1542,935),(1540,945),(1522,950)])],
    "Vanuatu": [("OC", [(1355,910),(1362,910),(1368,943),(1358,942)])],
    "Norway": [
        ("EU", [(340,375),(400,340),(445,305),(500,240),(560,210),(600,205),(660,190),(715,205),(690,230),(665,212),(625,238),(570,230),(510,255),(470,320),(450,340),(460,400),(440,440),(430,432),(380,460),(350,450)]),
        ("EU", [(390,40),(470,30),(495,45),(500,35),(480,25),(605,30),(600,40),(510,45),(490,85),(465,90),(445,70)]),
        ("EU", [(530,65),(560,58),(582,68),(550,78)]),
    ],
    "Sweden": [("EU", [(445,340),(470,320),(510,255),(570,232),(610,245),(622,295),(590,310),(540,370),(535,390),(560,420),(530,450),(525,495),(495,520),(480,515),(440,450),(458,400)])],
    "Finland": [("EU", [(615,245),(625,238),(665,212),(690,230),(720,290),(735,345),(760,360),(720,410),(640,420),(600,385),(595,345),(622,295)])],
    "Iceland": [("EU", [(-120,300),(-60,285),(0,282),(40,312),(0,335),(-60,345),(-100,330)])],
    "Ireland": [("EU", [(125,525),(155,530),(150,580),(110,600),(80,600),(95,545)])],
    "United Kingdom": [
        ("EU", [(155,485),(175,450),(205,450),(205,470),(225,465),(210,500),(250,540),(285,578),(280,610),(220,620),(155,638),(190,605),(165,605),(180,550),(165,520)]),
        ("EU", [(125,525),(155,530),(145,552),(128,545)]),
    ],
    "Denmark": [("EU", [(395,485),(435,470),(440,500),(415,530),(398,525)]), ("EU", [(445,510),(470,505),(470,530),(450,525)])],
    "Estonia": [("EU", [(645,432),(725,430),(718,472),(670,462),(650,470)])],
    "Latvia": [("EU", [(615,478),(650,470),(670,462),(718,472),(733,500),(710,515),(660,498),(618,498)])],
    "Lithuania": [("EU", [(618,498),(660,498),(710,515),(680,550),(650,540),(620,525)])],
    "Belarus": [("EU", [(680,550),(710,515),(745,503),(785,520),(825,560),(800,570),(800,605),(680,598),(670,560)])],
    "Poland": [("EU", [(505,550),(570,530),(620,545),(665,545),(670,590),(680,625),(655,652),(590,635),(560,628),(515,605)])],
    "Germany": [("EU", [(405,535),(440,540),(500,545),(515,605),(475,628),(495,665),(490,695),(395,690),(365,655),(365,590),(378,560)])],
    "Netherlands": [("EU", [(320,605),(345,565),(378,560),(365,600),(335,615)])],
    "Belgium": [("EU", [(300,615),(335,610),(365,620),(360,650),(330,630)])],
    "France": [
        ("EU", [(285,618),(300,615),(365,650),(395,665),(390,710),(380,725),(395,790),(340,795),(315,800),(290,812),(220,795),(235,730),(175,680),(230,665),(225,645),(260,650)]),
        ("EU", [(425,800),(435,805),(430,838),(417,832)]),
    ],
    "Spain": [("EU", [(85,785),(220,795),(290,812),(310,815),(270,850),(250,870),(250,910),(215,945),(160,945),(135,960),(110,940),(120,895),(135,825),(95,820)])],
    "Portugal": [("EU", [(90,820),(135,825),(120,895),(110,940),(85,935),(85,895),(75,885)])],
    "Italy": [
        ("EU", [(385,735),(430,725),(450,710),(510,715),(485,745),(510,790),(560,835),(605,865),(600,870),(575,855),(575,890),(560,915),(555,875),(505,830),(450,785),(420,770),(395,770)]),
        ("EU", [(495,912),(550,915),(550,945),(520,930)]),
        ("EU", [(412,845),(440,845),(440,890),(415,892)]),
    ],
    "Switzerland": [("EU", [(368,710),(395,692),(445,700),(425,725),(385,730)])],
    "Austria": [("EU", [(440,700),(490,695),(495,665),(560,670),(560,695),(530,715),(510,718),(450,710)])],
    "Czechia": [("EU", [(475,630),(515,607),(560,628),(590,637),(560,668),(495,665)])],
    "Slovakia": [("EU", [(565,670),(590,637),(655,652),(655,675),(600,685)])],
    "Croatia": [("EU", [(512,742),(535,735),(555,715),(615,735),(612,758),(600,790),(607,806),(592,806),(570,790),(530,768)])],
    "Bosnia": [("EU", [(555,750),(610,752),(625,785),(605,795),(590,805),(565,775)])],
    "Hungary": [("EU", [(555,695),(565,690),(600,685),(665,680),(640,720),(612,738),(555,718)])],
    "Romania": [("EU", [(640,720),(665,685),(745,680),(775,745),(790,745),(780,775),(690,780),(640,735)])],
    "Moldova": [("EU", [(745,678),(775,680),(800,715),(785,745),(770,720)])],
    "Ukraine": [("EU", [(658,660),(685,600),(800,605),(855,590),(890,630),(975,650),(975,685),(920,715),(895,735),(930,745),(880,765),(860,720),(820,720),(780,745),(800,715),(775,680),(745,678),(700,688),(665,680)])],
    "Slovenia": [("EU", [(510,718),(550,715),(530,740),(512,740)])],
    "Serbia": [("EU", [(610,730),(640,735),(680,790),(682,808),(662,825),(640,822),(622,785),(612,755)])],
    "Bulgaria": [("EU", [(685,785),(780,775),(775,815),(745,835),(680,830),(680,805)])],
    "North Macedonia": [("EU", [(645,825),(680,820),(685,840),(650,848)])],
    "Albania": [("EU", [(625,810),(640,815),(650,865),(635,875),(620,840)])],
    "Montenegro": [("EU", [(605,790),(625,790),(632,810),(620,815)])],
    "Greece": [
        ("EU", [(650,848),(685,840),(745,835),(750,845),(700,870),(690,890),(720,920),(695,950),(670,950),(645,890)]),
        ("EU", [(712,970),(765,980),(735,988)]),
    ],
    "Cyprus": [("EU", [(885,985),(925,968),(910,990)])],
    "Turkey": [
        ("EU", [(755,860),(800,845),(880,825),(950,840),(1035,835),(1095,860),(1110,930),(1060,935),(955,960),(900,945),(800,950),(770,930)]),
        ("EU", [(755,825),(790,820),(800,845),(750,860)]),
    ],
    "Georgia": [("EU", [(1000,788),(1060,805),(1130,825),(1125,838),(1080,840),(1040,830)])],
    "Azerbaijan": [("EU", [(1110,840),(1130,825),(1170,830),(1210,860),(1195,865),(1190,905),(1165,885),(1145,890)])],
    "Armenia": [("EU", [(1080,845),(1110,840),(1145,890),(1135,895),(1100,865)])],
}

# --- Figure ---
sns.set_theme(style="white")
plt.rcParams["font.family"] = ["Liberation Sans", "DejaVu Sans"]
plt.rcParams["hatch.linewidth"] = 3.5

palette = sns.color_palette(bin_colors)
grey_text = "#5b5b5b"
border = "#5a5a5a"

fig = plt.figure(figsize=(25, 17.65), dpi=100)
ax = fig.add_axes([0, 0, 1, 1])
ax.set_xlim(0, 2500)
ax.set_ylim(1765, 0)
ax.axis("off")


def ring_xy(section, points):
    x0, y0, sx, sy = sections[section]
    pts = np.array(points, dtype=float)
    return x0 + pts[:, 0] / sx, y0 + pts[:, 1] / sy


def draw_nodata(xs, ys):
    ax.fill(xs, ys, facecolor="white", edgecolor="#ececec", hatch="//", linewidth=0, zorder=2)
    ax.fill(xs, ys, fill=False, edgecolor="#c4c4c4", linewidth=1.1, zorder=2.1)


# --- Map ---
for name, rings in outlines.items():
    value = shares[name]
    for section, points in rings:
        xs, ys = ring_xy(section, points)
        if np.isnan(value):
            draw_nodata(xs, ys)
        else:
            idx = np.digitize(value, bin_edges) - 1
            ax.fill(xs, ys, facecolor=palette[idx], edgecolor=border, linewidth=1.0, zorder=3)

islands = pd.DataFrame({"x": tiny_x, "y": tiny_y})
sns.scatterplot(data=islands, x="x", y="y", ax=ax, color="#333333", s=3.5, linewidth=0, zorder=4, legend=False)
ax.set_xlim(0, 2500)
ax.set_ylim(1765, 0)
ax.axis("off")

# --- Legend bar ---
legend_df = pd.DataFrame({"low": bin_labels[:-1], "height": [1] * 10})
cax = fig.add_axes([490 / 2500, 1 - 1548 / 1765, 1719 / 2500, 29 / 1765])
sns.barplot(data=legend_df, x="low", y="height", hue="low", palette=bin_colors, width=1,
            legend=False, ax=cax, linewidth=0, saturation=1)
cax.set_xlim(-0.5, 9.5)
cax.set_ylim(0, 1)
cax.set_xlabel("")
cax.set_ylabel("")
cax.set_yticks([])
cax.set_xticks(np.arange(-0.5, 10, 1))
cax.set_xticklabels(bin_labels, fontsize=30.3, color="black")
cax.xaxis.tick_top()
cax.tick_params(axis="x", length=6.5, width=0.8, color="#666666", pad=1, top=True, bottom=False)
for spine in ["left", "right"]:
    cax.spines[spine].set_visible(False)
for spine in ["top", "bottom"]:
    cax.spines[spine].set_color("#777777")
    cax.spines[spine].set_linewidth(1.4)
for pos in np.arange(0.5, 9, 1):
    cax.axvline(pos, color="#555555", linewidth=0.8)

# no data swatch
box_x = [292, 430, 430, 292]
box_y = [1519, 1519, 1548, 1548]
ax.fill(box_x, box_y, facecolor="white", edgecolor="#ececec", hatch="//", linewidth=0)
ax.fill(box_x, box_y, fill=False, edgecolor="#999999", linewidth=1.0)
ax.plot([361, 361], [1510, 1519], color="#666666", linewidth=0.8)
ax.text(362, 1501, "No data", ha="center", va="baseline", fontsize=30, color="black")

# --- Texts ---
ax.text(44, 109, title, fontsize=58.3, family=["Liberation Serif", "DejaVu Serif"], color=grey_text, va="baseline")
ax.text(44, 171, subtitle, fontsize=30.1, color=grey_text, va="baseline")
ax.text(44, 1668, source, fontsize=27.4, color="#6e6e6e", va="baseline")
ax.text(44, 1715, note, fontsize=28.1, color="#6e6e6e", va="baseline")
ax.text(2484, 1668, url, fontsize=27.9, color="#6e6e6e", va="baseline", ha="right")

# --- Logo ---
ax.fill([2277, 2456, 2456, 2277], [44, 44, 136, 136], color="#002147", linewidth=0)
ax.fill([2277, 2456, 2456, 2277], [136, 136, 147, 147], color="#ce261e", linewidth=0)
ax.text(2366, 74, "Our World", family="Lato", fontsize=25, color="white", ha="center", va="center")
ax.text(2366, 113, "in Data", family="Lato", fontsize=25, color="white", ha="center", va="center")

fig.savefig("out.png", dpi=100, facecolor="white")
plt.close(fig)
